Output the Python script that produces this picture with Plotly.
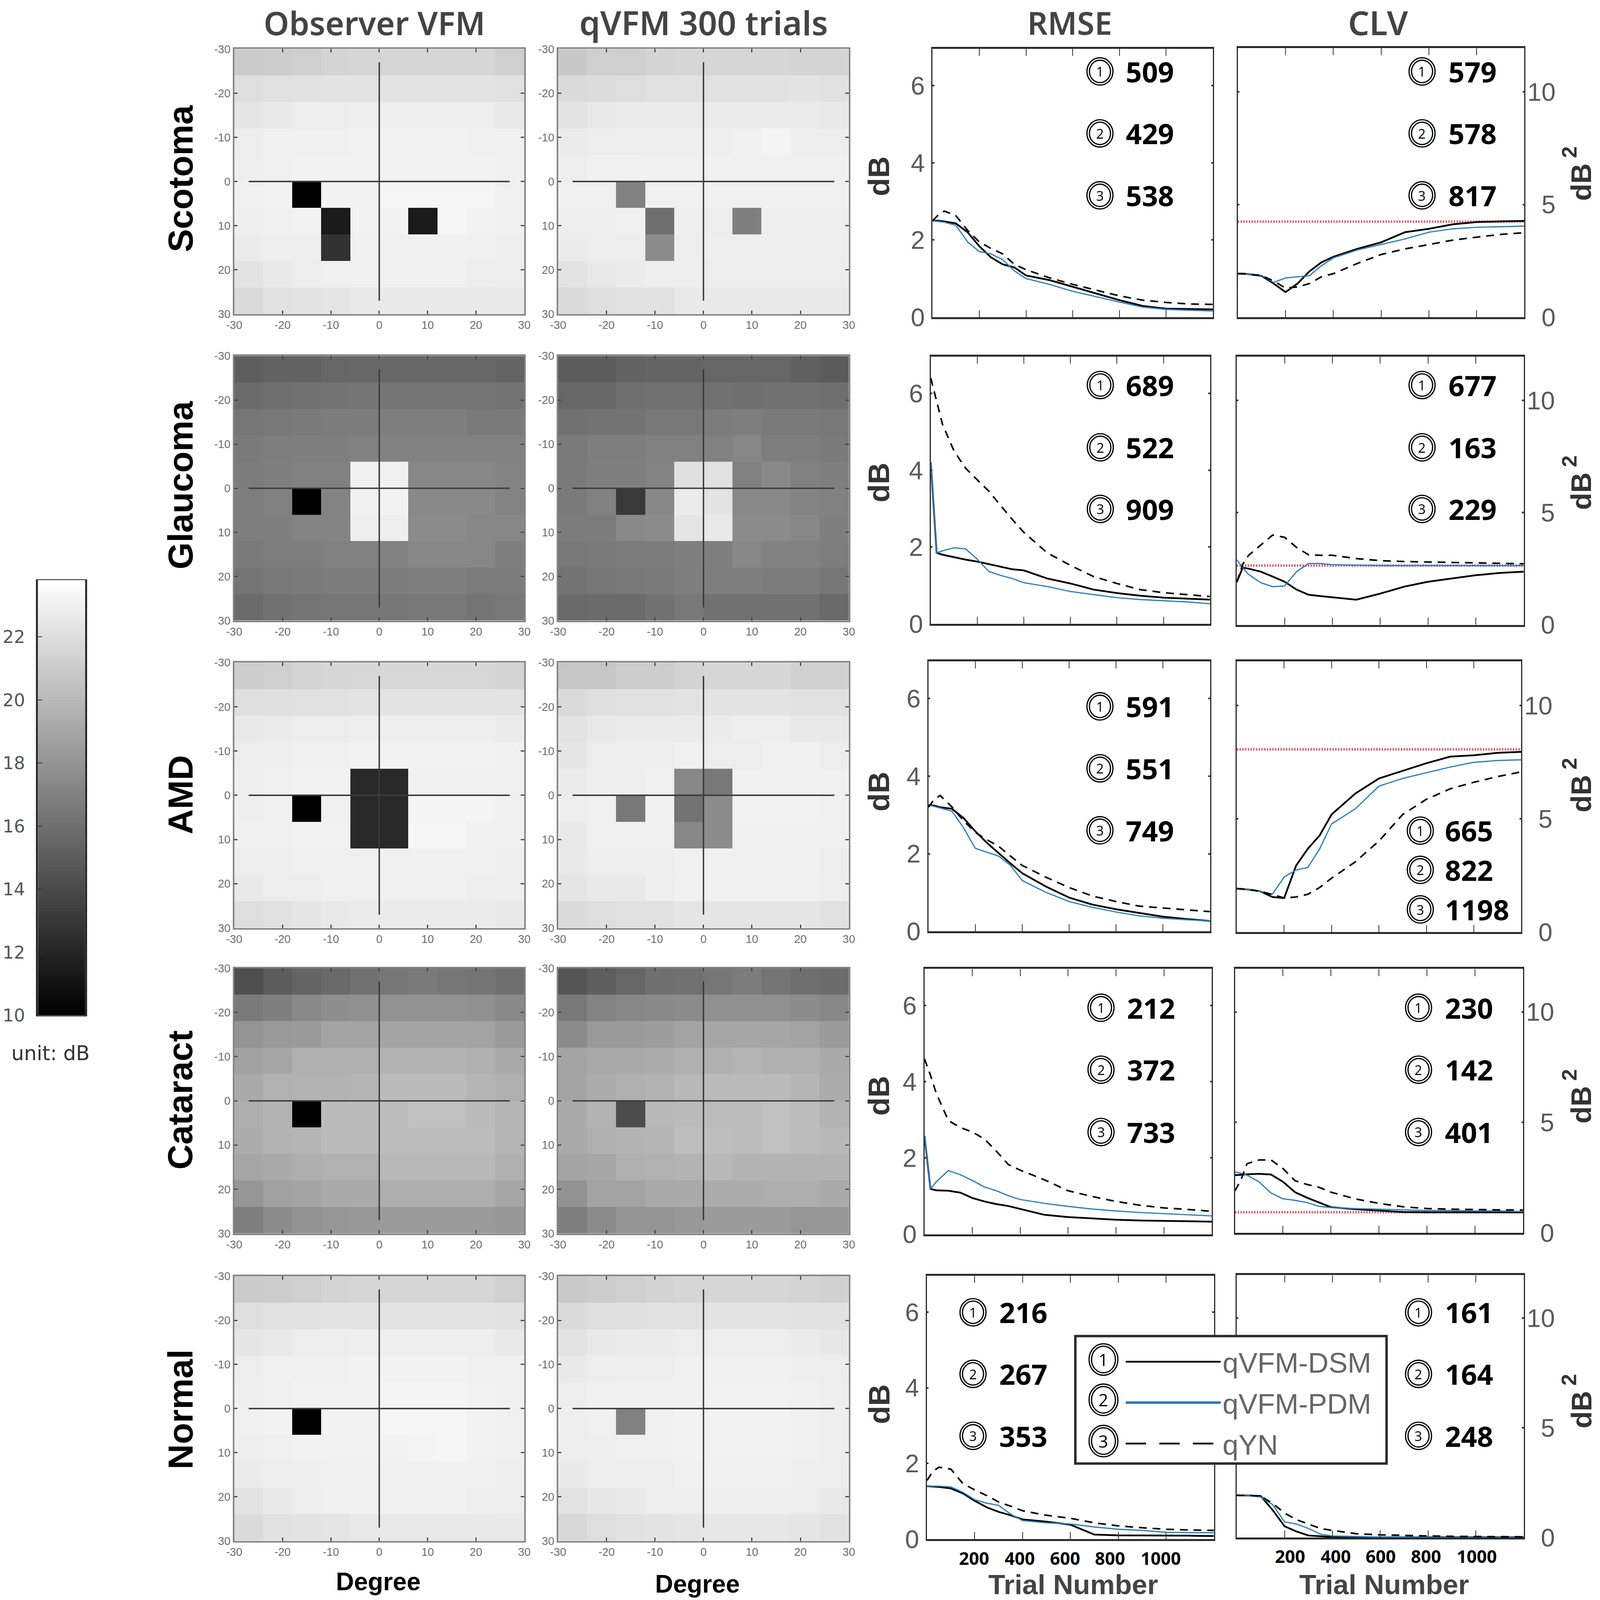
import plotly.graph_objects as go
import numpy as np

# reference size; the browser here only gives 4096x4096 and a body margin of 8
W = 4550
H = 4571
FIG = 4088
S = 4096 / W

conditions = ["Scotoma", "Glaucoma", "AMD", "Cataract", "Normal"]
map_axis = [-27, -21, -15, -9, -3, 3, 9, 15, 21, 27]
map_ticks = [-30, -20, -10, 0, 10, 20, 30]
map_tick_text = ["-30", "-20", "-10", "0", "10", "20", "30"]
cross_x = [-27, 27, None, 0, 0]
cross_y = [0, 0, None, -27, 27]
colorbar_ticks = [10, 12, 14, 16, 18, 20, 22]
colorbar_max = 23.8
# ramp of the grey scale bar
colorbar_levels = np.arange(10.05, colorbar_max, 0.1)

# threshold maps in dB, top row first
scotoma_observer = [
    [21.0, 21.1, 21.2, 21.5, 21.6, 21.6, 21.6, 21.6, 21.6, 21.2],
    [22.0, 22.2, 22.2, 22.3, 22.3, 22.3, 22.3, 22.3, 22.3, 22.2],
    [22.4, 22.6, 22.8, 22.8, 22.9, 22.9, 22.9, 22.9, 22.9, 22.6],
    [22.8, 23.0, 23.0, 23.0, 23.1, 23.1, 23.1, 23.1, 23.0, 23.0],
    [22.9, 23.0, 23.1, 23.1, 23.1, 23.1, 23.1, 23.1, 23.1, 23.0],
    [23.0, 23.1, 10.0, 23.1, 23.1, 23.3, 23.3, 23.3, 23.3, 23.0],
    [22.9, 23.0, 23.1, 11.4, 23.1, 23.1, 11.4, 23.3, 23.1, 23.0],
    [22.7, 22.9, 22.9, 12.7, 23.0, 23.0, 23.0, 23.0, 23.0, 22.9],
    [22.3, 22.6, 22.8, 23.0, 23.0, 23.0, 23.0, 23.0, 22.9, 22.8],
    [21.8, 22.2, 22.3, 22.4, 22.6, 22.6, 22.6, 22.6, 22.6, 22.6],
]
scotoma_qvfm = [
    [20.8, 21.2, 21.2, 21.5, 21.6, 21.6, 21.6, 21.6, 21.5, 21.5],
    [21.8, 21.9, 22.0, 22.2, 22.2, 22.2, 22.2, 22.2, 22.3, 22.2],
    [22.3, 22.6, 22.7, 22.7, 22.7, 22.7, 22.7, 22.7, 22.7, 22.6],
    [22.7, 22.8, 22.8, 22.9, 22.9, 22.9, 23.0, 23.2, 22.9, 22.9],
    [22.8, 23.0, 23.0, 23.0, 23.0, 23.0, 23.0, 23.0, 23.0, 23.0],
    [23.0, 23.0, 17.0, 23.0, 23.0, 23.0, 23.0, 23.0, 23.0, 23.0],
    [22.8, 22.8, 23.0, 16.0, 22.9, 22.8, 16.9, 22.9, 22.9, 22.9],
    [22.7, 22.8, 22.8, 17.6, 22.8, 22.9, 22.9, 22.9, 22.9, 22.9],
    [22.3, 22.6, 22.7, 22.9, 22.9, 22.8, 22.8, 22.8, 22.8, 22.8],
    [21.8, 22.0, 22.2, 22.2, 22.6, 22.6, 22.6, 22.6, 22.6, 22.6],
]
glaucoma_observer = [
    [15.1, 15.3, 15.3, 15.5, 15.6, 15.6, 15.6, 15.6, 15.6, 15.4],
    [15.8, 16.0, 16.1, 16.2, 16.3, 16.3, 16.3, 16.3, 16.3, 16.2],
    [16.4, 16.5, 16.6, 16.7, 16.7, 16.8, 16.9, 16.9, 16.6, 16.6],
    [16.6, 16.8, 16.9, 16.9, 17.0, 17.0, 17.0, 17.0, 17.0, 17.0],
    [16.7, 16.9, 17.0, 17.0, 23.0, 23.0, 17.3, 17.3, 17.3, 17.1],
    [16.8, 17.0, 10.0, 17.1, 23.0, 23.1, 17.4, 17.4, 17.4, 17.1],
    [16.9, 16.9, 17.1, 17.1, 22.9, 22.9, 17.5, 17.5, 17.3, 17.3],
    [16.6, 16.8, 16.8, 17.0, 17.0, 17.0, 17.3, 17.3, 17.3, 16.8],
    [16.3, 16.5, 16.6, 16.7, 16.7, 16.7, 16.9, 16.9, 16.7, 16.7],
    [15.8, 16.1, 16.3, 16.4, 16.4, 16.4, 16.5, 16.5, 16.3, 16.5],
]
glaucoma_qvfm = [
    [15.0, 15.0, 15.3, 15.4, 15.4, 15.5, 15.5, 15.5, 15.2, 14.9],
    [15.6, 15.6, 16.0, 16.1, 16.1, 16.1, 16.0, 16.1, 16.1, 16.0],
    [16.1, 16.2, 16.2, 16.5, 16.5, 16.7, 16.8, 16.6, 16.6, 16.5],
    [16.6, 16.8, 16.8, 17.0, 17.0, 17.0, 17.3, 16.8, 16.8, 16.6],
    [16.6, 16.9, 16.9, 17.1, 22.1, 22.2, 17.0, 17.4, 17.0, 16.9],
    [16.6, 17.0, 13.1, 17.3, 22.7, 22.3, 17.4, 17.4, 17.1, 17.0],
    [16.7, 16.7, 17.4, 17.5, 22.4, 22.6, 17.5, 17.5, 17.3, 16.9],
    [16.5, 16.6, 16.7, 16.7, 16.9, 16.9, 17.3, 17.0, 17.0, 16.8],
    [16.2, 16.4, 16.5, 16.6, 16.8, 16.8, 16.9, 16.7, 16.7, 16.4],
    [15.7, 15.8, 15.8, 16.1, 16.5, 16.1, 16.1, 16.1, 16.1, 15.7],
]
amd_observer = [
    [21.1, 21.2, 21.5, 21.6, 21.7, 21.7, 21.7, 21.7, 21.7, 21.5],
    [22.0, 22.1, 22.2, 22.2, 22.3, 22.3, 22.3, 22.3, 22.3, 22.3],
    [22.6, 22.7, 22.8, 22.8, 22.9, 22.9, 22.9, 22.9, 22.9, 22.7],
    [22.8, 22.9, 23.0, 23.0, 23.1, 23.1, 23.1, 23.1, 23.1, 23.0],
    [22.9, 23.0, 23.1, 23.1, 12.2, 12.2, 23.0, 23.0, 23.0, 23.0],
    [22.9, 23.0, 10.0, 23.0, 12.2, 12.2, 23.2, 23.2, 23.2, 23.0],
    [23.0, 23.0, 23.1, 23.1, 12.2, 12.2, 23.3, 23.3, 23.0, 23.0],
    [22.8, 22.9, 23.0, 23.0, 23.0, 23.0, 23.0, 23.0, 23.0, 22.9],
    [22.6, 22.8, 22.8, 23.0, 23.0, 23.0, 23.0, 23.0, 22.9, 22.9],
    [22.0, 22.2, 22.4, 22.6, 22.7, 22.7, 22.7, 22.7, 22.7, 22.6],
]
amd_qvfm = [
    [20.7, 20.7, 21.1, 21.1, 21.4, 21.6, 21.6, 21.6, 21.3, 21.3],
    [21.8, 22.0, 22.2, 22.2, 22.3, 22.3, 22.3, 22.3, 22.2, 22.2],
    [22.3, 22.6, 22.7, 22.7, 22.7, 22.7, 22.9, 22.9, 22.6, 22.6],
    [22.4, 22.8, 22.9, 22.9, 23.0, 22.8, 22.8, 23.0, 23.0, 22.8],
    [22.7, 22.9, 22.9, 23.0, 17.3, 16.5, 23.0, 23.0, 23.0, 23.0],
    [22.9, 23.0, 16.5, 23.0, 16.2, 17.6, 23.1, 23.1, 23.1, 23.0],
    [22.6, 23.0, 23.0, 23.0, 17.3, 17.6, 23.0, 23.0, 23.0, 23.0],
    [22.6, 22.8, 22.8, 22.8, 23.0, 23.0, 23.0, 23.0, 23.0, 22.8],
    [22.4, 22.6, 22.6, 22.9, 23.0, 23.0, 23.0, 23.0, 23.0, 22.9],
    [21.8, 22.0, 22.2, 22.2, 22.4, 22.4, 22.4, 22.4, 22.4, 22.2],
]
cataract_observer = [
    [14.2, 15.0, 15.4, 15.7, 16.1, 16.4, 16.6, 16.4, 16.3, 16.0],
    [16.6, 16.9, 17.4, 17.7, 17.8, 17.9, 17.9, 17.9, 17.8, 17.4],
    [18.0, 18.3, 18.4, 18.8, 18.8, 18.9, 18.9, 18.9, 18.8, 18.4],
    [18.7, 19.0, 19.5, 19.5, 19.5, 19.7, 19.7, 19.7, 19.5, 19.2],
    [19.2, 19.6, 19.7, 19.7, 19.8, 20.1, 20.1, 20.1, 19.8, 19.5],
    [19.4, 19.7, 10.0, 20.1, 20.1, 20.2, 20.4, 20.4, 20.1, 19.8],
    [19.3, 19.7, 19.8, 20.1, 20.1, 20.2, 20.2, 20.2, 20.2, 19.8],
    [19.0, 19.2, 19.4, 19.6, 19.6, 20.0, 20.0, 20.0, 20.0, 19.5],
    [18.1, 18.7, 18.9, 19.2, 19.2, 19.4, 19.4, 19.4, 19.4, 19.0],
    [16.9, 17.5, 17.9, 18.1, 18.2, 18.4, 18.4, 18.4, 18.4, 18.1],
]
cataract_qvfm = [
    [14.6, 15.1, 15.5, 16.0, 16.1, 16.4, 16.7, 16.3, 16.0, 15.8],
    [16.5, 17.1, 17.3, 17.4, 17.5, 17.8, 17.8, 17.8, 17.6, 17.3],
    [17.6, 18.3, 18.4, 18.5, 18.8, 19.0, 19.0, 19.0, 18.8, 18.4],
    [18.9, 19.1, 19.2, 19.3, 19.5, 19.5, 19.8, 19.5, 19.5, 19.2],
    [18.9, 19.3, 19.5, 19.7, 20.0, 20.1, 20.1, 20.1, 19.8, 19.3],
    [19.2, 19.7, 14.1, 20.0, 20.1, 20.2, 20.2, 20.4, 20.2, 19.7],
    [19.2, 19.5, 19.7, 19.8, 20.3, 20.3, 20.2, 20.4, 20.2, 20.0],
    [18.9, 19.0, 19.5, 19.6, 19.7, 20.0, 19.7, 19.7, 19.7, 19.7],
    [17.9, 18.8, 18.8, 19.2, 19.2, 19.3, 19.3, 19.4, 19.4, 19.2],
    [16.8, 17.5, 18.0, 18.0, 18.2, 18.4, 18.4, 18.4, 18.1, 18.1],
]
normal_observer = [
    [21.0, 21.1, 21.2, 21.5, 21.6, 21.6, 21.6, 21.6, 21.6, 21.2],
    [22.0, 22.2, 22.2, 22.3, 22.3, 22.3, 22.3, 22.3, 22.3, 22.2],
    [22.4, 22.6, 22.8, 22.8, 22.9, 22.9, 22.9, 22.9, 22.9, 22.6],
    [22.8, 23.0, 23.0, 23.0, 23.1, 23.1, 23.1, 23.1, 23.0, 23.0],
    [22.9, 23.0, 23.1, 23.1, 23.1, 23.2, 23.2, 23.2, 23.1, 23.0],
    [23.0, 23.1, 10.0, 23.1, 23.1, 23.3, 23.3, 23.3, 23.1, 23.0],
    [22.9, 23.0, 23.1, 23.1, 23.1, 23.1, 23.2, 23.3, 23.1, 23.0],
    [22.7, 22.9, 22.9, 23.0, 23.0, 23.0, 23.0, 23.0, 23.0, 22.9],
    [22.3, 22.6, 22.8, 23.0, 23.0, 23.0, 23.0, 23.0, 22.9, 22.8],
    [21.8, 22.2, 22.3, 22.4, 22.6, 22.6, 22.6, 22.6, 22.6, 22.6],
]
normal_qvfm = [
    [20.9, 21.1, 21.2, 21.4, 21.6, 21.6, 21.6, 21.6, 21.5, 21.3],
    [21.8, 22.0, 22.1, 22.2, 22.2, 22.3, 22.3, 22.3, 22.2, 22.2],
    [22.3, 22.6, 22.7, 22.7, 22.8, 22.8, 22.8, 22.8, 22.7, 22.5],
    [22.6, 22.8, 22.9, 22.9, 23.0, 23.0, 23.0, 23.0, 22.9, 22.8],
    [22.8, 23.0, 23.0, 23.0, 23.0, 23.1, 23.1, 23.1, 23.0, 22.9],
    [22.9, 23.0, 17.0, 23.0, 23.1, 23.1, 23.1, 23.1, 23.0, 22.9],
    [22.8, 22.9, 23.0, 23.0, 23.1, 23.1, 23.1, 23.1, 23.0, 22.9],
    [22.6, 22.8, 22.8, 22.9, 23.0, 23.0, 23.0, 23.0, 22.9, 22.8],
    [22.3, 22.5, 22.6, 22.8, 22.9, 22.9, 22.9, 22.9, 22.8, 22.6],
    [21.7, 22.0, 22.2, 22.3, 22.4, 22.5, 22.5, 22.5, 22.4, 22.2],
]

# learning curves, all read at these trial numbers
trials = [0, 25, 50, 100, 150, 200, 250, 300, 350, 400, 500, 600, 700, 800, 900, 1000, 1100, 1200]
xticks_curve = [200, 400, 600, 800, 1000]
rmse_ticks = [0, 2, 4, 6]
clv_ticks = [0, 5, 10]
clv_tick_text = ["\u00a0\u00a00", "\u00a0\u00a05", "10"]

scotoma_rmse_dsm = [2.50, 2.50, 2.48, 2.43, 2.20, 1.84, 1.55, 1.37, 1.29, 1.08, .96, .79, .61, .44, .29, .22, .21, .20]
scotoma_rmse_pdm = [2.50, 2.48, 2.46, 2.38, 1.95, 1.70, 1.64, 1.49, 1.20, 1.00, .85, .67, .53, .39, .26, .20, .18, .16]
scotoma_rmse_qyn = [2.50, 2.65, 2.75, 2.63, 2.25, 1.95, 1.78, 1.64, 1.37, 1.23, 1.02, .85, .70, .55, .44, .38, .34, .33]
scotoma_clv_dsm = [1.93, 1.93, 1.90, 1.83, 1.49, 1.11, 1.49, 2.03, 2.43, 2.68, 3.03, 3.32, 3.77, 3.92, 4.12, 4.22, 4.25, 4.27]
scotoma_clv_pdm = [1.93, 1.92, 1.90, 1.85, 1.54, 1.74, 1.79, 1.84, 2.28, 2.63, 2.98, 3.22, 3.47, 3.77, 3.92, 3.99, 4.02, 4.04]
scotoma_clv_qyn = [1.93, 1.92, 1.90, 1.85, 1.60, 1.29, 1.34, 1.49, 1.79, 1.93, 2.38, 2.78, 3.03, 3.22, 3.42, 3.55, 3.67, 3.75]

glaucoma_rmse_dsm = [4.20, 1.85, 1.80, 1.73, 1.67, 1.62, 1.55, 1.49, 1.42, 1.39, 1.18, 1.05, .89, .80, .73, .68, .65, .63]
glaucoma_rmse_pdm = [4.20, 1.85, 1.90, 1.98, 1.95, 1.68, 1.36, 1.26, 1.18, 1.07, .97, .84, .76, .68, .63, .60, .57, .52]
glaucoma_rmse_qyn = [6.40, 5.80, 5.20, 4.50, 4.05, 3.75, 3.45, 3.08, 2.72, 2.38, 1.85, 1.52, 1.23, 1.05, .89, .81, .76, .71]
glaucoma_clv_dsm = [1.90, 2.55, 2.50, 2.37, 2.15, 1.92, 1.57, 1.34, 1.28, 1.23, 1.12, 1.39, 1.70, 1.92, 2.06, 2.21, 2.31, 2.37]
glaucoma_clv_pdm = [2.90, 2.55, 2.24, 1.88, 1.70, 1.73, 2.37, 2.73, 2.73, 2.68, 2.66, 2.64, 2.64, 2.64, 2.64, 2.64, 2.64, 2.64]
glaucoma_clv_qyn = [1.90, 2.70, 3.10, 3.55, 4.00, 3.90, 3.45, 3.12, 3.10, 3.10, 2.95, 2.86, 2.82, 2.80, 2.78, 2.75, 2.73, 2.72]

amd_rmse_dsm = [3.26, 3.24, 3.20, 3.16, 2.92, 2.58, 2.28, 2.01, 1.75, 1.50, 1.16, .87, .69, .57, .47, .38, .32, .27]
amd_rmse_pdm = [3.26, 3.22, 3.18, 3.10, 2.67, 2.14, 2.04, 1.94, 1.70, 1.31, 1.01, .77, .62, .50, .40, .34, .30, .27]
amd_rmse_qyn = [3.20, 3.40, 3.50, 3.21, 2.85, 2.55, 2.36, 2.19, 1.94, 1.70, 1.40, 1.13, .91, .77, .65, .60, .55, .51]
amd_clv_dsm = [1.92, 1.90, 1.88, 1.80, 1.55, 1.50, 2.93, 3.68, 4.27, 5.19, 6.11, 6.78, 7.11, 7.45, 7.74, 7.80, 7.91, 7.95]
amd_clv_pdm = [1.92, 1.90, 1.88, 1.80, 1.67, 2.43, 2.74, 2.85, 3.68, 4.77, 5.44, 6.44, 6.78, 7.03, 7.28, 7.49, 7.57, 7.60]
amd_clv_qyn = [1.92, 1.90, 1.88, 1.80, 1.65, 1.51, 1.55, 1.67, 1.97, 2.38, 3.10, 4.02, 5.19, 5.86, 6.32, 6.61, 6.86, 7.07]

cataract_rmse_dsm = [2.58, 1.19, 1.15, 1.14, 1.09, .95, .86, .79, .74, .66, .51, .45, .41, .38, .36, .35, .34, .33]
cataract_rmse_pdm = [2.58, 1.19, 1.38, 1.67, 1.56, 1.41, 1.24, 1.14, 1.01, .91, .81, .73, .66, .61, .57, .54, .51, .48]
cataract_rmse_qyn = [4.60, 4.17, 3.68, 2.98, 2.80, 2.68, 2.50, 2.18, 1.83, 1.68, 1.43, 1.14, .99, .86, .76, .69, .65, .60]
cataract_clv_dsm = [2.61, 2.63, 2.65, 2.67, 2.64, 2.31, 1.84, 1.59, 1.37, 1.16, 1.07, 1.01, .94, .93, .93, .93, .93, .93]
cataract_clv_pdm = [2.75, 2.70, 2.61, 2.31, 1.80, 1.54, 1.47, 1.37, 1.20, 1.14, 1.10, 1.07, 1.05, 1.01, 1.01, .99, .99, .96]
cataract_clv_qyn = [1.90, 2.40, 3.13, 3.30, 3.30, 2.91, 2.36, 2.19, 2.06, 1.84, 1.54, 1.33, 1.18, 1.10, 1.07, 1.05, 1.04, 1.03]

normal_rmse_dsm = [1.40, 1.39, 1.38, 1.34, 1.21, 1.01, .84, .72, .63, .52, .46, .38, .12, .10, .10, .09, .09, .08]
normal_rmse_pdm = [1.40, 1.40, 1.40, 1.38, 1.24, 1.04, .95, .89, .66, .49, .43, .40, .32, .26, .23, .18, .17, .17]
normal_rmse_qyn = [1.55, 1.79, 1.90, 1.85, 1.47, 1.30, 1.15, .98, .87, .75, .63, .55, .43, .35, .30, .26, .24, .23]
normal_clv_dsm = [1.93, 1.93, 1.92, 1.90, 1.26, .52, .28, .10, .06, .03, .02, .02, .02, .02, .02, .02, .02, .02]
normal_clv_pdm = [1.93, 1.93, 1.92, 1.85, 1.51, .72, .62, .42, .16, .08, .06, .03, .03, .02, .02, .02, .02, .02]
normal_clv_qyn = [1.93, 1.93, 1.92, 1.90, 1.56, 1.12, .82, .62, .42, .33, .18, .13, .10, .08, .06, .05, .05, .04]

# red reference level in the CLV panels (no level drawn for Normal)
clv_reference = [4.24, 2.64, 8.06, 0.93, None]
reference_x = [0, 1200]

# trials-to-criterion numbers printed in the panels
rmse_counts = [[509, 429, 538], [689, 522, 909], [591, 551, 749], [212, 372, 733], [216, 267, 353]]
clv_counts = [[579, 578, 817], [677, 163, 229], [665, 822, 1198], [230, 142, 401], [161, 164, 248]]

maps = [
    [scotoma_observer, scotoma_qvfm],
    [glaucoma_observer, glaucoma_qvfm],
    [amd_observer, amd_qvfm],
    [cataract_observer, cataract_qvfm],
    [normal_observer, normal_qvfm],
]
rmse_curves = [
    [scotoma_rmse_dsm, scotoma_rmse_pdm, scotoma_rmse_qyn],
    [glaucoma_rmse_dsm, glaucoma_rmse_pdm, glaucoma_rmse_qyn],
    [amd_rmse_dsm, amd_rmse_pdm, amd_rmse_qyn],
    [cataract_rmse_dsm, cataract_rmse_pdm, cataract_rmse_qyn],
    [normal_rmse_dsm, normal_rmse_pdm, normal_rmse_qyn],
]
clv_curves = [
    [scotoma_clv_dsm, scotoma_clv_pdm, scotoma_clv_qyn],
    [glaucoma_clv_dsm, glaucoma_clv_pdm, glaucoma_clv_qyn],
    [amd_clv_dsm, amd_clv_pdm, amd_clv_qyn],
    [cataract_clv_dsm, cataract_clv_pdm, cataract_clv_qyn],
    [normal_clv_dsm, normal_clv_pdm, normal_clv_qyn],
]

# panel boxes in reference pixels: left, right, top, bottom
map_rows = [(140, 897), (1017, 1773), (1893, 2651), (2766, 3524), (3646, 4402)]
map_cols = [(666, 1491), (1587, 2414)]
rmse_boxes = [(2652, 3449, 139, 906), (2647, 3441, 1019, 1782), (2640, 3441, 1889, 2661),
              (2629, 3446, 2768, 3526), (2636, 3452, 3645, 4397)]
clv_boxes = [(3520, 4335, 137, 906), (3517, 4333, 1019, 1785), (3517, 4326, 1889, 2663),
             (3512, 4331, 2768, 3522), (3517, 4333, 3643, 4393)]

# circled-number positions: ring x, text x, three y values
rmse_label_pos = [(3128, 3199, [204, 381, 558]), (3129, 3199, [1100, 1278, 1454]),
                  (3128, 3199, [2018, 2195, 2372]), (3131, 3202, [2879, 3056, 3234]),
                  (2767, 2839, [3749, 3925, 4102])]
clv_label_pos = [(4044, 4117, [204, 381, 558]), (4044, 4117, [1100, 1278, 1454]),
                 (4039, 4107, [2373, 2485, 2598]), (4034, 4107, [2879, 3056, 3234]),
                 (4034, 4107, [3749, 3925, 4102])]
row_label_y = [510, 1386, 2270, 3142, 4026]
db_y = [504, 1379, 2262, 3131, 4012]
db2_y = [497, 1380, 2244, 3133, 4004]

SANS = "Liberation Sans"
OPEN = "Open Sans"


# reference pixels to paper fractions of the figure
def px(x):
    return (x * S - 8) / FIG


def py(y):
    return 1 - (y * 4096 / H - 8) / FIG


fig = go.Figure()
annotations = []
shapes = []
axis_count = 0


def new_axes(box, xopts, yopts):
    global axis_count
    axis_count += 1
    n = axis_count
    suffix = "" if n == 1 else str(n)
    left, right, top, bottom = box
    # the default template turns automargin on, which would shrink the plot area
    xopts = dict(xopts, domain=[px(left), px(right)], anchor="y" + suffix, automargin=False)
    yopts = dict(yopts, domain=[py(bottom), py(top)], anchor="x" + suffix, automargin=False)
    fig.update_layout({"xaxis" + suffix: xopts, "yaxis" + suffix: yopts})
    return "x" + suffix, "y" + suffix


def text(x, y, s, size, color="black", family=SANS, bold=False, rotate=0, anchor="center", weight=None):
    if bold:
        s = "<b>" + s + "</b>"
    font = dict(size=size * S, color=color, family=family)
    if weight:
        font["weight"] = weight
    annotations.append(dict(x=px(x), y=py(y), xref="paper", yref="paper", text=s, showarrow=False,
                            font=font, textangle=rotate, xanchor=anchor, yanchor="middle"))


def ring(cx, cy, digit, rx=37, ry=39, size=38):
    for shrink in [0, 7]:
        shapes.append(dict(type="circle", xref="paper", yref="paper", layer="above",
                           x0=px(cx - rx + shrink), x1=px(cx + rx - shrink),
                           y0=py(cy + ry - shrink), y1=py(cy - ry + shrink),
                           line=dict(color="black", width=3.5 * S)))
    text(cx, cy, str(digit), size, family=OPEN)


map_x = dict(range=[-30, 30], tickvals=map_ticks, ticktext=map_tick_text, ticks="inside", ticklen=10 * S,
             tickwidth=3 * S, tickcolor="#444444", showline=True, linecolor="#858585", linewidth=4 * S,
             mirror="ticks", showgrid=False, zeroline=False,
             tickfont=dict(size=32 * S, color="#6e6e6e", family=SANS))
map_y = dict(map_x, range=[30, -30])

for r, (top, bottom) in enumerate(map_rows):
    for c, (left, right) in enumerate(map_cols):
        xa, ya = new_axes((left, right, top, bottom), map_x, map_y)
        fig.add_trace(go.Heatmap(x=map_axis, y=map_axis, z=maps[r][c], zmin=10, zmax=colorbar_max,
                                 colorscale=[[0, "black"], [1, "white"]], showscale=False,
                                 hoverinfo="skip", xaxis=xa, yaxis=ya))
        fig.add_trace(go.Scatter(x=cross_x, y=cross_y, mode="lines", showlegend=False, hoverinfo="skip",
                                 line=dict(color="#3a3a3a", width=4 * S), xaxis=xa, yaxis=ya))

line_styles = [dict(color="black", width=5 * S), dict(color="#2f7fbf", width=3.5 * S),
               dict(color="black", width=4.5 * S, dash="20px,15px")]
names = ["qVFM-DSM", "qVFM-PDM", "qYN"]

curve_x = dict(range=[0, 1200], tickvals=xticks_curve, ticks="inside", ticklen=20 * S, tickwidth=2 * S,
               tickcolor="#333333", showticklabels=False, showline=True, linecolor="#2a2a2a", linewidth=6 * S,
               mirror="ticks", showgrid=False, zeroline=False)
curve_y = dict(ticks="inside", ticklen=5 * S, tickwidth=4 * S, tickcolor="#333333", showline=True,
               linecolor="#2a2a2a", linewidth=3 * S, mirror="ticks", showgrid=False, zeroline=False,
               tickfont=dict(size=72 * S, color="#5a5a5a", family=SANS))

for r in range(5):
    xa, ya = new_axes(rmse_boxes[r], curve_x,
                      dict(curve_y, range=[0, 6.96], tickvals=rmse_ticks, ticklabelstandoff=4))
    for k in range(3):
        fig.add_trace(go.Scatter(x=trials, y=rmse_curves[r][k], mode="lines", showlegend=False, hoverinfo="skip",
                                 line=line_styles[k], xaxis=xa, yaxis=ya))
    ring_x, text_x, ys = rmse_label_pos[r]
    for k in range(3):
        ring(ring_x, ys[k], k + 1)
        text(text_x, ys[k], str(rmse_counts[r][k]), 80, family=OPEN, bold=True, anchor="left")
    text(2499, db_y[r], "dB", 85, color="#333333", bold=True, rotate=-90)

    xa, ya = new_axes(clv_boxes[r], curve_x,
                      dict(curve_y, range=[0, 11.95], tickvals=clv_ticks, ticktext=clv_tick_text, side="right",
                           ticklabelstandoff=-8))
    if clv_reference[r] is not None:
        fig.add_trace(go.Scatter(x=reference_x, y=[clv_reference[r]] * 2, mode="lines", showlegend=False,
                                 hoverinfo="skip", line=dict(color="#e4505a", width=7 * S, dash="3.5px,3.5px"),
                                 xaxis=xa, yaxis=ya))
    for k in range(3):
        fig.add_trace(go.Scatter(x=trials, y=clv_curves[r][k], mode="lines", showlegend=False, hoverinfo="skip",
                                 line=line_styles[k], xaxis=xa, yaxis=ya))
    ring_x, text_x, ys = clv_label_pos[r]
    for k in range(3):
        ring(ring_x, ys[k], k + 1)
        text(text_x, ys[k], str(clv_counts[r][k]), 80, family=OPEN, bold=True, anchor="left")
    # the squared unit is two separate rotated pieces in the original
    text(4497, db2_y[r] + 23, "dB", 80, color="#333333", bold=True, rotate=-90)
    text(4462, db2_y[r] - 62, "2", 60, color="#333333", bold=True, rotate=-90)

    text(513, row_label_y[r], conditions[r], 99, bold=True, rotate=-90)

# grey scale bar as its own small axis
xa, ya = new_axes((108, 242, 1657, 2901),
                  dict(range=[-0.5, 0.5], showticklabels=False, ticks="", showline=True, linecolor="#2a2a2a",
                       linewidth=2 * S, mirror=True, showgrid=False, zeroline=False),
                  dict(range=[10, colorbar_max], tickvals=colorbar_ticks, ticks="inside", ticklen=12 * S,
                       tickwidth=2 * S, tickcolor="#333333", showline=True, linecolor="#2a2a2a", linewidth=6 * S,
                       mirror=True, showgrid=False, zeroline=False, ticklabelstandoff=int(22 * S),
                       tickfont=dict(size=50 * S, color="#555555", family="DejaVu Sans")))
fig.add_trace(go.Heatmap(x=[0], y=colorbar_levels, z=[[v] for v in colorbar_levels], zmin=10, zmax=colorbar_max,
                         colorscale=[[0, "black"], [1, "white"]], showscale=False, hoverinfo="skip",
                         xaxis=xa, yaxis=ya))
text(144, 3009, "unit: dB", 57, color="#333333", family="DejaVu Sans")

# titles, kept low enough that their text boxes stay on the page
text(1065, 64, "Observer VFM", 92, color="#444444", family="Noto Sans", weight=600)
text(2001, 64, "qVFM 300 trials", 95, color="#444444", family="Noto Sans", weight=600)
text(3042, 64, "RMSE", 90, color="#444444", family="Noto Sans", weight=600)
text(3919, 64, "CLV", 95, color="#444444", family="Noto Sans", weight=600)
text(1076, 4519, "Degree", 71, bold=True)
text(1983, 4525, "Degree", 71, bold=True)
text(3052, 4527, "Trial Number", 79, color="#444444", bold=True)
text(3936, 4527, "Trial Number", 79, color="#444444", bold=True)

# trial tick labels sit a little off the ticks in the original
for label, x in zip(xticks_curve, [2770, 2900, 3029, 3157, 3301]):
    text(x, 4451, str(label), 50, family=OPEN, bold=True)
for label, x in zip(xticks_curve, [3668, 3799, 3926, 4055, 4200]):
    text(x, 4445, str(label), 50, family=OPEN, bold=True)

# white box behind the legend, the legend itself is see-through
shapes.append(dict(type="rect", xref="paper", yref="paper", layer="above", x0=px(3058), x1=px(3943),
                   y0=py(4181), y1=py(3817), fillcolor="white", line=dict(color="#2a2a2a", width=7 * S)))
for k, y in enumerate([3884, 3999, 4117]):
    ring(3138, y, k + 1, rx=41, ry=45, size=48)

legend_styles = [dict(color="black", width=5 * S), dict(color="#1f78c1", width=7 * S),
                 dict(color="black", width=5 * S, dash="52px,34px")]
for k in range(3):
    fig.add_trace(go.Scatter(x=[None], y=[None], mode="lines", name=names[k], line=legend_styles[k],
                             legendgroup=names[k], xaxis="x", yaxis="y"))

fig.update_layout(
    width=FIG, height=FIG, autosize=False, margin=dict(l=0, r=0, t=0, b=0),
    paper_bgcolor="white", plot_bgcolor="white", font=dict(family=SANS),
    annotations=annotations, shapes=shapes,
    legend=dict(x=px(3058), y=py(3830), xanchor="left", yanchor="top", bgcolor="rgba(0,0,0,0)", borderwidth=0,
                itemwidth=int(271 * S), indentation=int(138 * S), tracegroupgap=int(8 * S), itemclick=False,
                itemdoubleclick=False, font=dict(size=81 * S, color="#666666", family=SANS)),
)

fig.write_html("out.html")
